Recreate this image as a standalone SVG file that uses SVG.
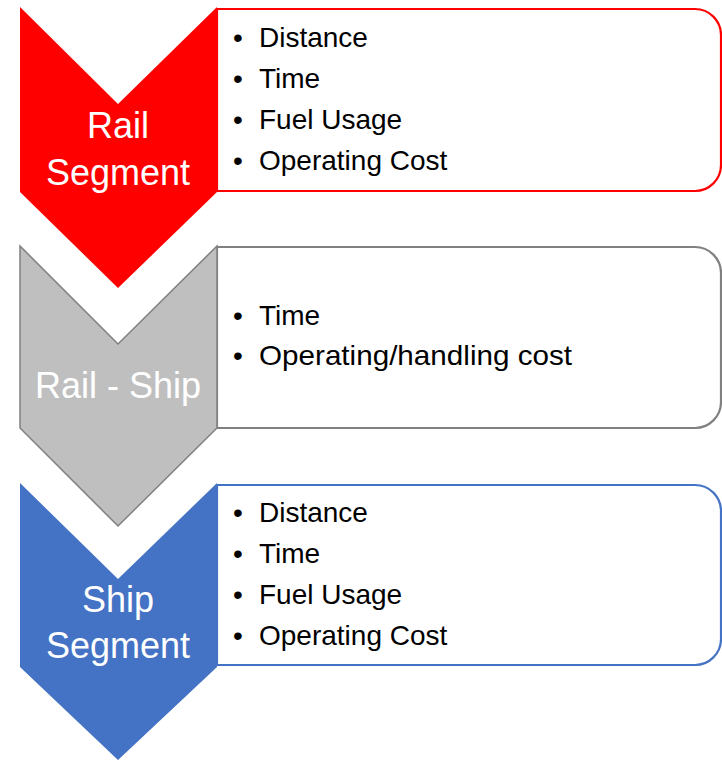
<svg xmlns="http://www.w3.org/2000/svg" width="722" height="761" viewBox="0 0 722 761">
<style>
.box{fill:#ffffff;stroke-width:2.2}
.lbl{font-family:"Liberation Sans",Arial,sans-serif;font-size:36px;fill:#ffffff;text-anchor:middle}
.item{font-family:"Liberation Sans",Arial,sans-serif;font-size:28px;fill:#000000}
</style>
<rect width="722" height="761" fill="#ffffff"/>
<g id="rail-segment">
  <path class="box" stroke="#ff0000" d="M217,9 H695 A26,26 0 0 1 721,35 V165 A26,26 0 0 1 695,191 H217 Z"/>
  <polygon fill="#ff0000" points="20,7 118,104 217,7 217,192 118,288 20,192"/>
  <text class="lbl" x="118" y="138">Rail</text>
  <text class="lbl" x="118" y="185">Segment</text>
  <text class="item" x="233" y="47">•<tspan x="259">Distance</tspan></text>
  <text class="item" x="233" y="88">•<tspan x="259">Time</tspan></text>
  <text class="item" x="233" y="129">•<tspan x="259">Fuel Usage</tspan></text>
  <text class="item" x="233" y="170">•<tspan x="259">Operating Cost</tspan></text>
</g>
<g id="rail-ship">
  <path class="box" stroke="#808080" d="M217,247 H695 A26,26 0 0 1 721,273 V402 A26,26 0 0 1 695,428 H217 Z"/>
  <polygon fill="#bfbfbf" stroke="#808080" stroke-width="1.5" points="20,246 118,344 217,246 217,428 118,526 20,428"/>
  <text class="lbl" x="118" y="398" fill="#f2f2f2">Rail - Ship</text>
  <text class="item" x="233" y="325">•<tspan x="259">Time</tspan></text>
  <text class="item" x="233" y="365">•<tspan x="259" textLength="313" lengthAdjust="spacingAndGlyphs">Operating/handling cost</tspan></text>
</g>
<g id="ship-segment">
  <path class="box" stroke="#4472c4" d="M217,485 H695 A26,26 0 0 1 721,511 V639 A26,26 0 0 1 695,665 H217 Z"/>
  <polygon fill="#4472c4" points="20,483 118,579 217,483 217,667 118,760 20,667"/>
  <text class="lbl" x="118" y="612">Ship</text>
  <text class="lbl" x="118" y="658">Segment</text>
  <text class="item" x="233" y="522">•<tspan x="259">Distance</tspan></text>
  <text class="item" x="233" y="563">•<tspan x="259">Time</tspan></text>
  <text class="item" x="233" y="604">•<tspan x="259">Fuel Usage</tspan></text>
  <text class="item" x="233" y="645">•<tspan x="259">Operating Cost</tspan></text>
</g>
<g id="connectors"></g>
</svg>
